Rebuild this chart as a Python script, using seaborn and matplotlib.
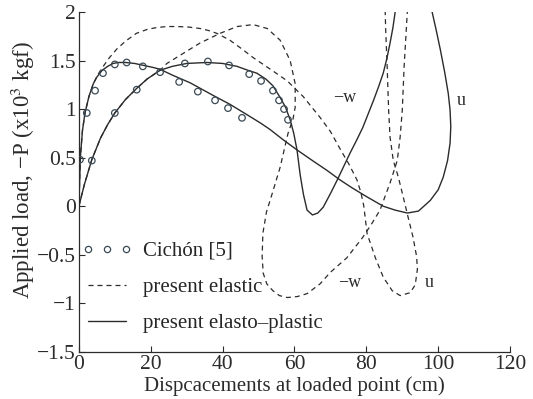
import numpy as np
import pandas as pd
import matplotlib
matplotlib.use("Agg")
import matplotlib.pyplot as plt
from matplotlib.lines import Line2D
import seaborn as sns

# ---- values ----
# elasto-plastic, u (steep start)
u_pl_x = [0, 0.4, 1.0, 1.7, 2.8, 4.0, 5.0, 6.5, 8, 9.5, 11, 13, 15.5, 18, 20.5, 22.6, 26, 31, 37.4, 42,
          46, 50.4, 53.2, 57, 60.7, 65, 69, 72.7, 76, 80, 84.7, 88, 91.4, 94.5, 97.8, 100, 101.4, 102.6,
          103.3, 103.5, 103.3, 102.8, 101.8, 100.6, 99.4, 98.3, 98.0]
u_pl_y = [0, 0.5, 0.78, 0.96, 1.13, 1.26, 1.33, 1.40, 1.44, 1.47, 1.48, 1.48, 1.47, 1.45, 1.43, 1.41,
          1.35, 1.27, 1.14, 1.05, 0.96, 0.86, 0.79, 0.68, 0.58, 0.47, 0.37, 0.27, 0.19, 0.10, 0.0,
          -0.04, -0.07, -0.05, 0.06, 0.17, 0.30, 0.47, 0.65, 0.82, 0.99, 1.16, 1.38, 1.61, 1.82, 2.0, 2.05]

# elasto-plastic, -w (slow start)
w_pl_x = [0, 1.5, 3.6, 6, 8, 10, 13, 16, 19, 22.6, 26, 30, 35.6, 40, 44, 47, 49.5, 52, 54, 56, 57.5,
          58.8, 59.8, 60.7, 61.6, 62.5, 63.5, 65, 66.5, 68, 70, 71.9, 73.7, 75.5, 77.3, 79, 80.5, 82,
          83.4, 84.7, 85.7, 86.6, 87.4, 88.1, 88.3]
w_pl_y = [0, 0.22, 0.48, 0.70, 0.84, 0.96, 1.10, 1.21, 1.31, 1.40, 1.44, 1.47, 1.48, 1.47, 1.44, 1.40,
          1.37, 1.31, 1.24, 1.12, 1.02, 0.89, 0.75, 0.58, 0.32, 0.12, -0.04, -0.09, -0.07, -0.01, 0.13,
          0.27, 0.41, 0.55, 0.68, 0.81, 0.95, 1.09, 1.23, 1.37, 1.52, 1.68, 1.84, 2.02, 2.06]

# elastic, u
u_el_x = [0, 0.4, 1.0, 1.7, 2.8, 4.0, 5.2, 6.4, 8.5, 10.6, 13, 16, 19, 21.7, 24.5, 27.3, 30.5, 33.7,
          36, 38.4, 42, 45.7, 48.5, 51.3, 54.5, 58, 62.4, 67, 70, 72.7, 75.2, 77.4, 78.5, 79.3, 80.2,
          82.5, 84.7, 87.2, 89.4, 92.2, 93.6, 94.2, 94.0, 93.0, 91.6, 90.3, 88.9, 87.5, 86.6, 86.2,
          85.8, 85.4, 85.2]
u_el_y = [0, 0.5, 0.78, 0.96, 1.13, 1.26, 1.35, 1.42, 1.53, 1.62, 1.70, 1.78, 1.82, 1.84, 1.85, 1.85,
          1.845, 1.83, 1.81, 1.78, 1.71, 1.61, 1.53, 1.46, 1.38, 1.29, 1.13, 0.92, 0.77, 0.59, 0.43,
          0.27, 0.14, 0.0, -0.28, -0.53, -0.73, -0.87, -0.92, -0.89, -0.81, -0.65, -0.52, -0.32,
          -0.11, 0.09, 0.30, 0.47, 0.71, 0.99, 1.43, 1.80, 2.05]

# elastic, -w
w_el_x = [0, 1.5, 3.6, 6, 8, 10, 13, 16, 19, 22.6, 24.5, 28, 33.7, 39.3, 44, 48.5, 52.4, 56, 58.8,
          60.2, 60.2, 59.6, 58.2, 56, 53.8, 52.2, 51.2, 51.0, 51.3, 52.3, 54, 55.8, 58, 60.8, 63.5,
          67.1, 70, 74.6, 79, 81.5, 83.8, 86.6, 88.6, 89.4, 90, 90.5, 91.4, 91.5]
w_el_y = [0, 0.22, 0.48, 0.70, 0.84, 0.96, 1.10, 1.21, 1.31, 1.40, 1.47, 1.55, 1.68, 1.78, 1.85, 1.87,
          1.83, 1.71, 1.50, 1.26, 1.02, 0.90, 0.75, 0.40, 0.13, -0.06, -0.28, -0.52, -0.69, -0.80,
          -0.87, -0.92, -0.94, -0.93, -0.90, -0.80, -0.68, -0.53, -0.32, -0.18, -0.04, 0.24, 0.47,
          0.71, 0.99, 1.43, 2.0, 2.06]

# Cichon [5] reference points
cich_x = [0.3, 2.2, 4.5, 6.7, 10, 13.3, 17.8, 27.9, 33.1, 37.9, 41.5, 45.4,
          3.6, 10, 16.1, 22.6, 29.5, 35.9, 41.8, 47.4, 50.7, 54, 55.7, 57.1, 58.2]
cich_y = [0.48, 0.96, 1.19, 1.37, 1.46, 1.48, 1.44, 1.28, 1.18, 1.09, 1.01, 0.91,
          0.47, 0.96, 1.20, 1.38, 1.47, 1.49, 1.45, 1.36, 1.29, 1.19, 1.09, 1.00, 0.89]

curve_labels = ["\u2212w", "u", "\u2212w", "u"]
label_x = [74, 106.5, 75.5, 97.5]
label_y = [1.12, 1.09, -0.79, -0.79]

sns.set_theme(style="ticks")
plt.rcParams['font.family'] = ['Liberation Serif', 'DejaVu Serif']
plt.rcParams['mathtext.fontset'] = 'stix'

ink = '#2b2b2b'
dash = (0, (4, 3.2))

fig = plt.figure(figsize=(5.33, 3.99), dpi=100)
ax = fig.add_axes([0.148, 0.118, 0.809, 0.852])

sns.lineplot(x=u_pl_x, y=u_pl_y, sort=False, estimator=None, ax=ax, color=ink, lw=1.0)
sns.lineplot(x=w_pl_x, y=w_pl_y, sort=False, estimator=None, ax=ax, color=ink, lw=1.0)
sns.lineplot(x=u_el_x, y=u_el_y, sort=False, estimator=None, ax=ax, color=ink, lw=0.9, linestyle=dash)
sns.lineplot(x=w_el_x, y=w_el_y, sort=False, estimator=None, ax=ax, color=ink, lw=0.9, linestyle=dash)
sns.scatterplot(x=cich_x, y=cich_y, ax=ax, marker='o', s=22, facecolor='none',
                edgecolor='#3a4a55', linewidth=0.9, zorder=3)

for t, lx, ly in zip(curve_labels, label_x, label_y):
    ax.text(lx, ly, t, fontsize=13, color=ink, ha='center', va='center')

ax.set_xlim(0, 120)
ax.set_ylim(-1.5, 2)
ax.set_xticks([0, 20, 40, 60, 80, 100, 120])
ax.set_yticks([-1.5, -1, -0.5, 0, 0.5, 1, 1.5, 2])
ax.set_yticklabels(['\u22121.5', '\u22121', '\u22120.5', '0', '0.5', '1', '1.5', '2'])
ax.tick_params(direction='in', length=4, width=0.8, labelsize=15.5, colors=ink, pad=2)
for s in ['left', 'bottom']:
    ax.spines[s].set_color(ink)
    ax.spines[s].set_linewidth(0.9)
sns.despine(ax=ax)

ax.set_xlabel('Dispcacements at loaded point (cm)', fontsize=15, color=ink, labelpad=2)
ax.set_ylabel('Applied load, \u2212P (x10$^3$ kgf)', fontsize=16.5, color=ink)
ax.yaxis.set_label_coords(-0.098, 0.535)

handles = [
    Line2D([], [], ls='none', marker='o', ms=4.5, mfc='none', mec='#3a4a55', mew=0.9),
    Line2D([], [], color=ink, lw=0.9, ls=dash),
    Line2D([], [], color=ink, lw=1.0),
]
ax.legend(handles, ['Cich\u00f3n [5]', 'present elastic', 'present elasto\u2013plastic'],
          loc='center left', bbox_to_anchor=(0.007, 0.19), frameon=False, fontsize=15,
          numpoints=3, handlelength=2.4, handletextpad=0.55, labelspacing=0.8,
          borderpad=0, borderaxespad=0)

fig.savefig('out.png', dpi=100)
